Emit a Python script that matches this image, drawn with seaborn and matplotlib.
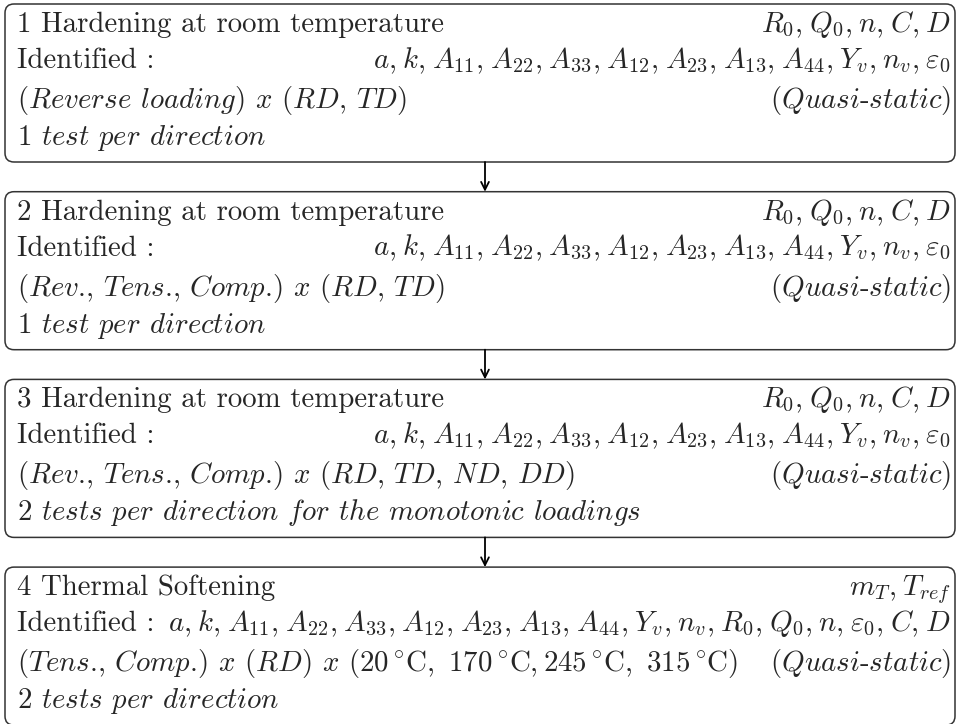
import re
import matplotlib
matplotlib.use("Agg")
import matplotlib.pyplot as plt
from matplotlib.patches import FancyBboxPatch
import seaborn as sns

# text of the four identification steps
titles = ["1 Hardening at room temperature",
          "2 Hardening at room temperature",
          "3 Hardening at room temperature",
          "4 Thermal Softening"]
fitted = [r"$R_0, Q_0, n, C, D$",
          r"$R_0, Q_0, n, C, D$",
          r"$R_0, Q_0, n, C, D$",
          r"$m_T, T_{ref}$"]
known_a = r"$a, k, A_{11}, A_{22}, A_{33}, A_{12}, A_{23}, A_{13}, A_{44}, Y_v, n_v, \varepsilon_0$"
known_b = (r"$a, k, A_{11}, A_{22}, A_{33}, A_{12}, A_{23}, A_{13}, A_{44}, Y_v, n_v, "
           r"R_0, Q_0, n, \varepsilon_0, C, D$")
identified = [known_a, known_a, known_a, known_b]
loadings = ["(Reverse loading) x (RD, TD)",
            "(Rev., Tens., Comp.) x (RD, TD)",
            "(Rev., Tens., Comp.) x (RD, TD, ND, DD)",
            "(Tens., Comp.) x (RD) x ("]
temps = ["20", "170", "245", "315"]
speed = "(Quasi-static)"
tests = ["1 test per direction",
         "1 test per direction",
         "2 tests per direction for the monotonic loadings",
         "2 tests per direction"]

sns.set_theme(style="white")
plt.rcParams['font.family'] = ['cmr10']
plt.rcParams['mathtext.fontset'] = 'cm'
plt.rcParams['axes.unicode_minus'] = False


def ital(s):
    # letters in math italic, punctuation/digits/spaces as plain cmr10
    out = ""
    for tok in re.findall(r"[A-Za-z]+|[^A-Za-z]+", s):
        out += r"$\mathit{" + tok + "}$" if tok.isalpha() else tok
    return out


def spaced(m):
    # small extra gap after commas, like LaTeX math
    return m.replace(", ", r",\:\!")


deg = r"\,^{\circ}\mathrm{C}"
temp_str = (r"$" + temps[0] + deg + r",\ " + temps[1] + deg + "," + temps[2] + deg
            + r",\ " + temps[3] + deg + "$")

fig = plt.figure(figsize=(9.56, 7.24), dpi=100)
ax = fig.add_axes([0, 0, 1, 1])
ax.set_xlim(0, 956)
ax.set_ylim(724, 0)
ax.axis("off")

fs = 20.8
x0, x1 = 5, 955
top0, pitch, h = 4, 187.7, 158
xl, xr = 17, 951
arrow_x = 485
rows = [28, 64, 104, 141]

for i in range(len(titles)):
    top = top0 + i * pitch
    ax.add_patch(FancyBboxPatch((x0, top), x1 - x0, h,
                                boxstyle="round,pad=0,rounding_size=9",
                                fc="white", ec="#333333", lw=1.1))
    ax.text(xl, top + rows[0], titles[i], fontsize=fs, va="baseline")
    ax.text(xr, top + rows[0], spaced(fitted[i]), fontsize=fs, va="baseline", ha="right")
    ax.text(xl, top + rows[1], "Identified :", fontsize=fs, va="baseline")
    ax.text(xr, top + rows[1], spaced(identified[i]), fontsize=fs, va="baseline", ha="right")
    lt = ital(loadings[i])
    if i == 3:
        lt = lt + temp_str + ")"
    ax.text(xl, top + rows[2], lt, fontsize=fs, va="baseline")
    ax.text(xr, top + rows[2], ital(speed), fontsize=fs, va="baseline", ha="right")
    ax.text(xl, top + rows[3], ital(tests[i]), fontsize=fs, va="baseline")
    if i < len(titles) - 1:
        ax.annotate("", xy=(arrow_x, top + pitch), xytext=(arrow_x, top + h),
                    arrowprops=dict(arrowstyle="->", lw=1.3, color="black",
                                    shrinkA=0, shrinkB=0, mutation_scale=14))

fig.savefig("out.png", dpi=100)
